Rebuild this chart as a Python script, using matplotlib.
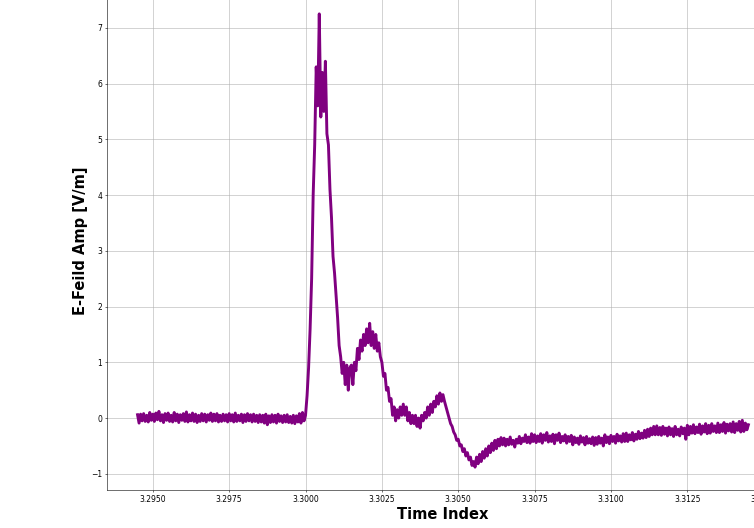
import numpy as np
import matplotlib
matplotlib.use("Agg")
import matplotlib.pyplot as plt

# sample times (s), one sample every 50 us
t_start = 3.2945
t_stop = 3.3145
n_samples = 401

# E-field amplitude [V/m], 20 samples per row (1 ms)
efield = [
    0.06, -0.09, 0.07, -0.05, 0.08, -0.06, 0.05, -0.07, 0.10, -0.04, 0.07, -0.06, 0.09, -0.03, 0.12, -0.05, 0.06, -0.08, 0.08, -0.04,
    0.09, -0.06, 0.05, -0.07, 0.10, -0.05, 0.07, -0.08, 0.06, -0.04, 0.08, -0.06, 0.11, -0.07, 0.06, -0.05, 0.09, -0.06, 0.07, -0.08,
    0.05, -0.06, 0.08, -0.05, 0.07, -0.07, 0.06, -0.04, 0.09, -0.06, 0.07, -0.05, 0.08, -0.07, 0.05, -0.06, 0.07, -0.05, 0.06, -0.07,
    0.08, -0.05, 0.06, -0.07, 0.09, -0.06, 0.05, -0.05, 0.07, -0.08, 0.06, -0.06, 0.08, -0.05, 0.06, -0.07, 0.07, -0.06, 0.05, -0.08,
    0.06, -0.07, 0.05, -0.09, 0.07, -0.12, 0.04, -0.08, 0.06, -0.07, 0.05, -0.09, 0.07, -0.06, 0.04, -0.08, 0.05, -0.07, 0.06, -0.08,
    0.03, -0.09, 0.05, -0.10, 0.04, -0.07, 0.08, -0.09, 0.10, -0.05, 0.05, 0.40, 0.90, 1.60, 2.50, 4.00, 4.90, 6.30, 5.60, 7.25,
    5.40, 6.20, 5.50, 6.40, 5.10, 4.90, 4.10, 3.60, 2.90, 2.60, 2.20, 1.80, 1.30, 1.10, 0.80, 1.00, 0.60, 0.95, 0.50, 0.90,
    0.95, 0.60, 1.00, 0.85, 1.25, 1.05, 1.40, 1.20, 1.50, 1.30, 1.60, 1.35, 1.70, 1.30, 1.55, 1.25, 1.50, 1.20, 1.35, 1.10,
    1.00, 0.75, 0.80, 0.50, 0.55, 0.30, 0.35, 0.05, 0.20, -0.05, 0.15, 0.00, 0.20, 0.05, 0.25, 0.05, 0.20, -0.05, 0.10, -0.10,
    0.05, -0.10, 0.05, -0.15, 0.00, -0.18, 0.05, -0.05, 0.10, 0.00, 0.20, 0.05, 0.25, 0.10, 0.30, 0.20, 0.40, 0.25, 0.45, 0.30,
    0.42, 0.30, 0.20, 0.10, 0.00, -0.10, -0.15, -0.25, -0.30, -0.40, -0.38, -0.50, -0.48, -0.60, -0.55, -0.68, -0.62, -0.75, -0.70, -0.85,
    -0.78, -0.88, -0.70, -0.82, -0.65, -0.78, -0.60, -0.72, -0.55, -0.68, -0.50, -0.62, -0.45, -0.58, -0.40, -0.55, -0.38, -0.50, -0.35, -0.48,
    -0.36, -0.50, -0.38, -0.48, -0.34, -0.47, -0.40, -0.52, -0.38, -0.45, -0.33, -0.46, -0.36, -0.42, -0.30, -0.44, -0.34, -0.45, -0.28, -0.42,
    -0.30, -0.44, -0.32, -0.42, -0.28, -0.45, -0.30, -0.40, -0.26, -0.43, -0.32, -0.42, -0.29, -0.46, -0.30, -0.40, -0.27, -0.44, -0.33, -0.41,
    -0.30, -0.45, -0.33, -0.42, -0.31, -0.48, -0.34, -0.44, -0.36, -0.47, -0.32, -0.43, -0.35, -0.48, -0.33, -0.45, -0.37, -0.46, -0.34, -0.49,
    -0.35, -0.47, -0.33, -0.45, -0.36, -0.50, -0.30, -0.44, -0.34, -0.46, -0.31, -0.42, -0.33, -0.45, -0.29, -0.41, -0.32, -0.43, -0.28, -0.42,
    -0.27, -0.42, -0.30, -0.39, -0.26, -0.41, -0.29, -0.38, -0.24, -0.37, -0.27, -0.36, -0.22, -0.35, -0.20, -0.33, -0.18, -0.30, -0.15, -0.30,
    -0.14, -0.30, -0.17, -0.31, -0.15, -0.29, -0.18, -0.32, -0.16, -0.30, -0.19, -0.33, -0.15, -0.30, -0.20, -0.32, -0.16, -0.28, -0.18, -0.38,
    -0.13, -0.30, -0.15, -0.27, -0.12, -0.28, -0.16, -0.26, -0.11, -0.29, -0.14, -0.25, -0.10, -0.28, -0.13, -0.27, -0.10, -0.24, -0.14, -0.26,
    -0.09, -0.26, -0.12, -0.24, -0.08, -0.27, -0.11, -0.23, -0.10, -0.25, -0.07, -0.26, -0.10, -0.22, -0.06, -0.25, -0.04, -0.24, -0.09, -0.21,
    -0.12,
]

t = np.linspace(t_start, t_stop, n_samples)

fig = plt.figure(figsize=(15.08, 10.56), dpi=50)
ax = fig.add_axes([0.1419, 0.072, 0.8912, 0.945])
ax.plot(t, efield, color="purple", lw=4.2)

ax.set_xlim(3.2935, 3.3155)
ax.set_ylim(-1.29, 7.66)
ax.ticklabel_format(axis="x", useOffset=False)
ax.set_xticks([3.2950, 3.2975, 3.3000, 3.3025, 3.3050, 3.3075, 3.3100, 3.3125, 3.3150])
ax.grid(True)
ax.tick_params(labelsize=11)

ax.set_xlabel("Time Index", fontsize=21, fontweight="bold")
ax.set_ylabel("E-Feild Amp [V/m]", fontsize=21, fontweight="bold")

fig.savefig("out.png", dpi=50)
